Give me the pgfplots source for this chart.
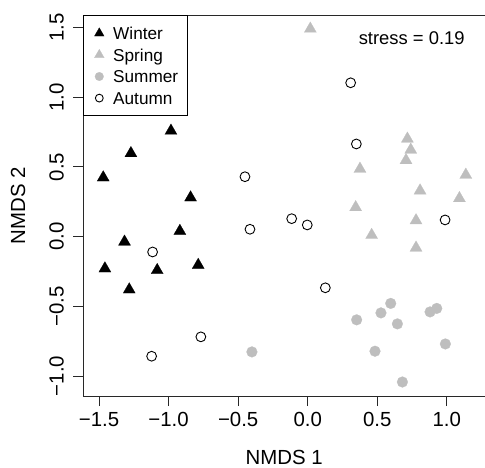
\documentclass[border=0pt]{standalone}
\usepackage{fontspec}
\setmainfont{Liberation Sans}
\usepackage{pgfplots}
\pgfplotsset{compat=1.18}
\definecolor{rgrey}{RGB}{190,190,190}
\definecolor{axisgrey}{RGB}{40,40,40}

% legend marker: small, centred in a fixed-width cell
\pgfplotsset{rlegend/.style={legend image code/.code={%
  \path (-3.5pt,0pt) (3.5pt,0pt);
  \draw[##1, every mark/.append style={scale=0.8}] plot coordinates {(0pt,0pt)};}}}

\begin{document}
\begin{tikzpicture}
\begin{axis}[
  at={(41.65pt,35.5pt)}, anchor=south west,
  scale only axis, width=200.85pt, height=190.5pt,
  xmin=-1.6133, xmax=1.2750, ymin=-1.1435, ymax=1.5904,
  axis x line*=bottom, axis y line*=left,
  axis line style={line width=0.5pt, axisgrey},
  tick align=outside, major tick length=5pt,
  tick style={line width=0.5pt, axisgrey},
  xtick={-1.5,-1,-0.5,0,0.5,1},
  xticklabels={−1.5,−1.0,−0.5,0.0,0.5,1.0},
  ytick={-1,-0.5,0,0.5,1,1.5},
  yticklabels={−1.0,−0.5,0.0,0.5,1.0,1.5},
  ticklabel style={font=\fontsize{10.2}{12}\selectfont},
  xticklabel style={anchor=base, yshift=-10.25pt},
  yticklabel style={xshift=-4.85pt, rotate=90, anchor=base},
  xlabel={NMDS 1}, ylabel={NMDS 2},
  label style={font=\fontsize{10.2}{12}\selectfont},
  xlabel style={at={(axis description cs:0.5,-0.1790)}, anchor=base},
  ylabel style={at={(axis description cs:-0.1451,0.5)}, anchor=base},
  clip=false,
  legend cell align=left,
  legend style={at={(0,1)}, anchor=north west, draw=black, line width=0.5pt,
    fill=white, inner xsep=4pt, inner ysep=3.5pt, row sep=0pt, column sep=2.7pt,
    font=\fontsize{8.6}{10}\selectfont,
    nodes={inner xsep=0.5pt, inner ysep=0.875pt, text height=7.6pt, text depth=1.45pt}},
]
\addplot[only marks, mark=triangle*, mark size=3.5pt,
  mark options={fill=black, draw=black, line width=0.1pt}, rlegend] coordinates {
  (-1.271, 0.598) (-1.470, 0.424) (-0.842, 0.280) (-0.919, 0.040)
  (-1.317,-0.037) (-1.458,-0.229) (-1.082,-0.241) (-0.787,-0.204)
  (-1.283,-0.380) (-0.983, 0.759)
};
\addlegendentry{Winter}
\addplot[only marks, mark=triangle*, mark size=3.5pt,
  mark options={fill=rgrey, draw=rgrey, line width=0.1pt}, rlegend] coordinates {
  (0.019, 1.491) (0.717, 0.702) (0.741, 0.623) (0.707, 0.548)
  (0.376, 0.486) (1.137, 0.443) (0.808, 0.330) (1.091, 0.275)
  (0.345, 0.210) (0.779, 0.116) (0.460, 0.011) (0.779,-0.080)
};
\addlegendentry{Spring}
\addplot[only marks, mark=*, mark size=2.7pt,
  mark options={fill=rgrey, draw=rgrey, line width=0.1pt}, rlegend] coordinates {
  (-0.401,-0.827) (0.352,-0.597) (0.527,-0.547) (0.597,-0.479)
  (0.645,-0.626) (0.484,-0.822) (0.681,-1.043) (0.880,-0.540)
  (0.928,-0.515) (0.990,-0.770)
};
\addlegendentry{Summer}
\addplot[only marks, mark=o, mark size=2.45pt,
  mark options={draw=black, line width=0.45pt}, rlegend] coordinates {
  (-1.115,-0.110) (-1.122,-0.858) (-0.768,-0.719) (0.309, 1.104)
  (0.350, 0.665) (-0.451, 0.430) (-0.415, 0.053) (-0.115, 0.129)
  (-0.003, 0.084) (0.988, 0.120) (0.127,-0.367)
};
\addlegendentry{Autumn}
\draw[line width=0.5pt, axisgrey] (rel axis cs:0,1) -- (rel axis cs:1,1);
\node[anchor=base east, font=\fontsize{9.2}{11}\selectfont]
  at (rel axis cs:0.9669,0.9231) {stress = 0.19};
\end{axis}
\pgfresetboundingbox
\path (0,0) rectangle (242.5pt,233.5pt);
\end{tikzpicture}
\end{document}
